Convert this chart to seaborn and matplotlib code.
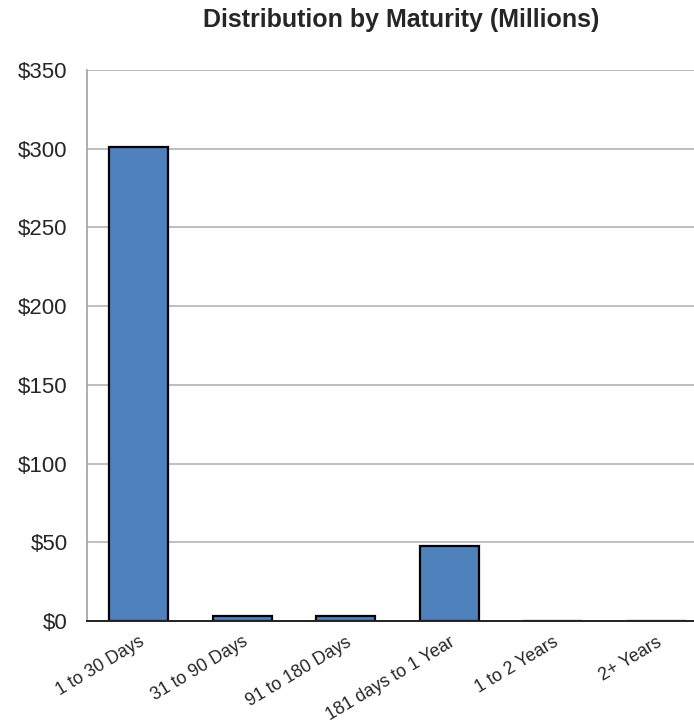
import matplotlib
matplotlib.use("Agg")
import matplotlib.pyplot as plt
import seaborn as sns
import pandas as pd
from matplotlib.ticker import FuncFormatter

categories = ["1 to 30 Days", "31 to 90 Days", "91 to 180 Days",
              "181 days to 1 Year", "1 to 2 Years", "2+ Years"]
values = [301, 3, 3, 47.5, 0, 0]
yticks = [0, 50, 100, 150, 200, 250, 300, 350]

sns.set_style("white")
plt.rcParams['font.family'] = ['Liberation Sans', 'DejaVu Sans']

df = pd.DataFrame({"cat": categories, "val": values})

fig = plt.figure(figsize=(6.94, 7.26), dpi=100)
ax = fig.add_axes([87/694, 1-621/726, (708-87)/694, (621-70)/726])

sns.barplot(data=df, x="cat", y="val", ax=ax, color="#4F81BD", saturation=1,
            width=0.57, edgecolor="black", linewidth=1.6, zorder=3)

ax.set_ylim(0, 350)
ax.set_xlim(-0.5, len(categories) - 0.5)
ax.set_yticks(yticks)
ax.yaxis.set_major_formatter(FuncFormatter(lambda v, p: f"${int(v)}"))
ax.grid(axis="y", color="#b3b3b3", linewidth=1.2, zorder=0)
ax.set_axisbelow(True)
ax.set_xlabel("")
ax.set_ylabel("")

for s in ["top", "right"]:
    ax.spines[s].set_visible(False)
ax.spines["left"].set_color("#a0a0a0")
ax.spines["left"].set_linewidth(1.2)
ax.spines["bottom"].set_color("#222222")
ax.spines["bottom"].set_linewidth(1.4)
ax.spines["bottom"].set_zorder(4)

ax.tick_params(axis="y", length=0, pad=14, labelsize=16)
ax.tick_params(axis="x", length=0, pad=9, labelsize=12.8)
for lab in ax.get_xticklabels():
    lab.set_rotation(31)
    lab.set_ha("right")
    lab.set_rotation_mode("anchor")

fig.text(401/694, 1-20/726, "Distribution by Maturity (Millions)",
         ha="center", va="center", fontsize=18, fontweight="bold")

fig.savefig("out.png", dpi=100)
